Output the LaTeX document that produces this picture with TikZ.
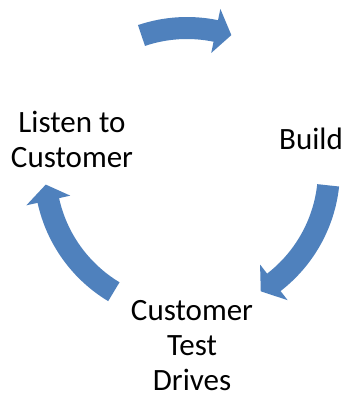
\documentclass[tikz,border=0pt]{standalone}
\usepackage{fontspec}
\setmainfont{Carlito}
\definecolor{arrowblue}{RGB}{79,129,189}
\begin{document}
\begin{tikzpicture}[x=1pt,y=1pt,
  label/.style={font=\fontsize{31}{35}\selectfont, align=center, inner sep=0pt, anchor=base},
  cyclearrow/.style={fill=arrowblue, draw=none}]
\useasboundingbox[fill=white] (0,0) rectangle (346,394);
\begin{scope}[shift={(187,224)}]
  % top arrow
  \fill[cyclearrow] (108.7:153) arc[start angle=108.7, end angle=78.3, radius=153]
    -- (78.3:164.5) -- (71.8:142) -- (78.3:119.5) -- (78.3:131)
    arc[start angle=78.3, end angle=108.7, radius=131] -- cycle;
  % right arrow
  \fill[cyclearrow] (-6.2:153) arc[start angle=-6.2, end angle=-52.3, radius=153]
    -- (-52.3:164.5) -- (-58.7:142) -- (-52.3:119.5) -- (-52.3:131)
    arc[start angle=-52.3, end angle=-6.2, radius=131] -- cycle;
  % left arrow
  \fill[cyclearrow] (239:153) arc[start angle=239, end angle=192.4, radius=153]
    -- (192.4:164.5) -- (185.9:142) -- (192.4:119.5) -- (192.4:131)
    arc[start angle=192.4, end angle=239, radius=131] -- cycle;
\end{scope}
\node[label] (listen) at (72,226) {Listen to\\Customer};
\node[label] (build) at (311,244) {Build};
\node[label] (test) at (192,4) {Customer\\Test\\Drives};
\end{tikzpicture}
\end{document}
